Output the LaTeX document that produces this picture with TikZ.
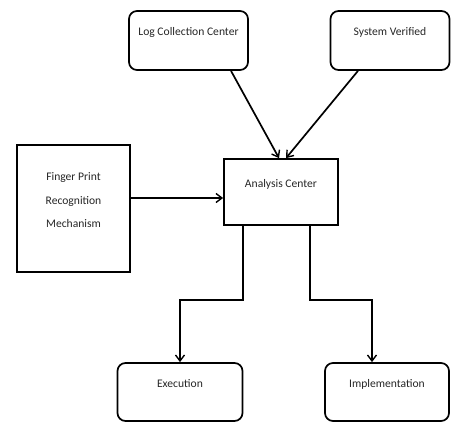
\documentclass[tikz,border=0pt]{standalone}
\usepackage{fontspec}
\setmainfont{Carlito}
\usetikzlibrary{arrows.meta}
\begin{document}
\begin{tikzpicture}[x=1pt,y=-1pt,
  rbox/.style={draw, line width=1.7pt, rounded corners=8pt, inner sep=0pt},
  sbox/.style={draw, line width=1.7pt, inner sep=0pt},
  lbl/.style={text=black!85, font=\fontsize{11.6}{23.5}\selectfont, align=center, inner sep=0pt},
  conn/.style={line width=1.7pt, -{Straight Barb[length=6pt,width=9pt,line width=1.4pt]}}]
\useasboundingbox (0,0) rectangle (451,422);
\node[rbox, minimum width=119pt, minimum height=59pt] (log) at (188.5,40.5) {};
\node[lbl] (logt) at (188.5,32) {Log Collection Center};
\node[rbox, minimum width=119pt, minimum height=59pt] (sys) at (390,40.5) {};
\node[lbl] (syst) at (390,32) {System Verified};
\node[sbox, minimum width=113pt, minimum height=127pt] (fp) at (73.5,208.5) {};
\node[lbl] (fpt) at (73.5,200.5) {Finger Print\\Recognition\\Mechanism};
\node[sbox, minimum width=114pt, minimum height=66pt] (an) at (281,192) {};
\node[lbl] (ant) at (281,184) {Analysis Center};
\node[rbox, minimum width=125pt, minimum height=58pt] (ex) at (180,392) {};
\node[lbl] (ext) at (180,384) {Execution};
\node[rbox, minimum width=124pt, minimum height=58pt] (im) at (387,392) {};
\node[lbl] (imt) at (387,384) {Implementation};
\coordinate (j1) at (243,300);
\coordinate (j2) at (310,300);
\draw[conn] ([xshift=42.5pt]log.south) -- ([xshift=-2pt]an.north);
\draw[conn] ([xshift=-32pt]sys.south) -- ([xshift=5pt]an.north);
\draw[conn] ([yshift=10.5pt]fp.east) -- ([yshift=-6pt]an.west);
\draw[conn] ([xshift=-38pt]an.south) -- (j1) -| (ex.north);
\draw[conn] ([xshift=29pt]an.south) -- (j2) -| ([xshift=-15pt]im.north);
\end{tikzpicture}
\end{document}
